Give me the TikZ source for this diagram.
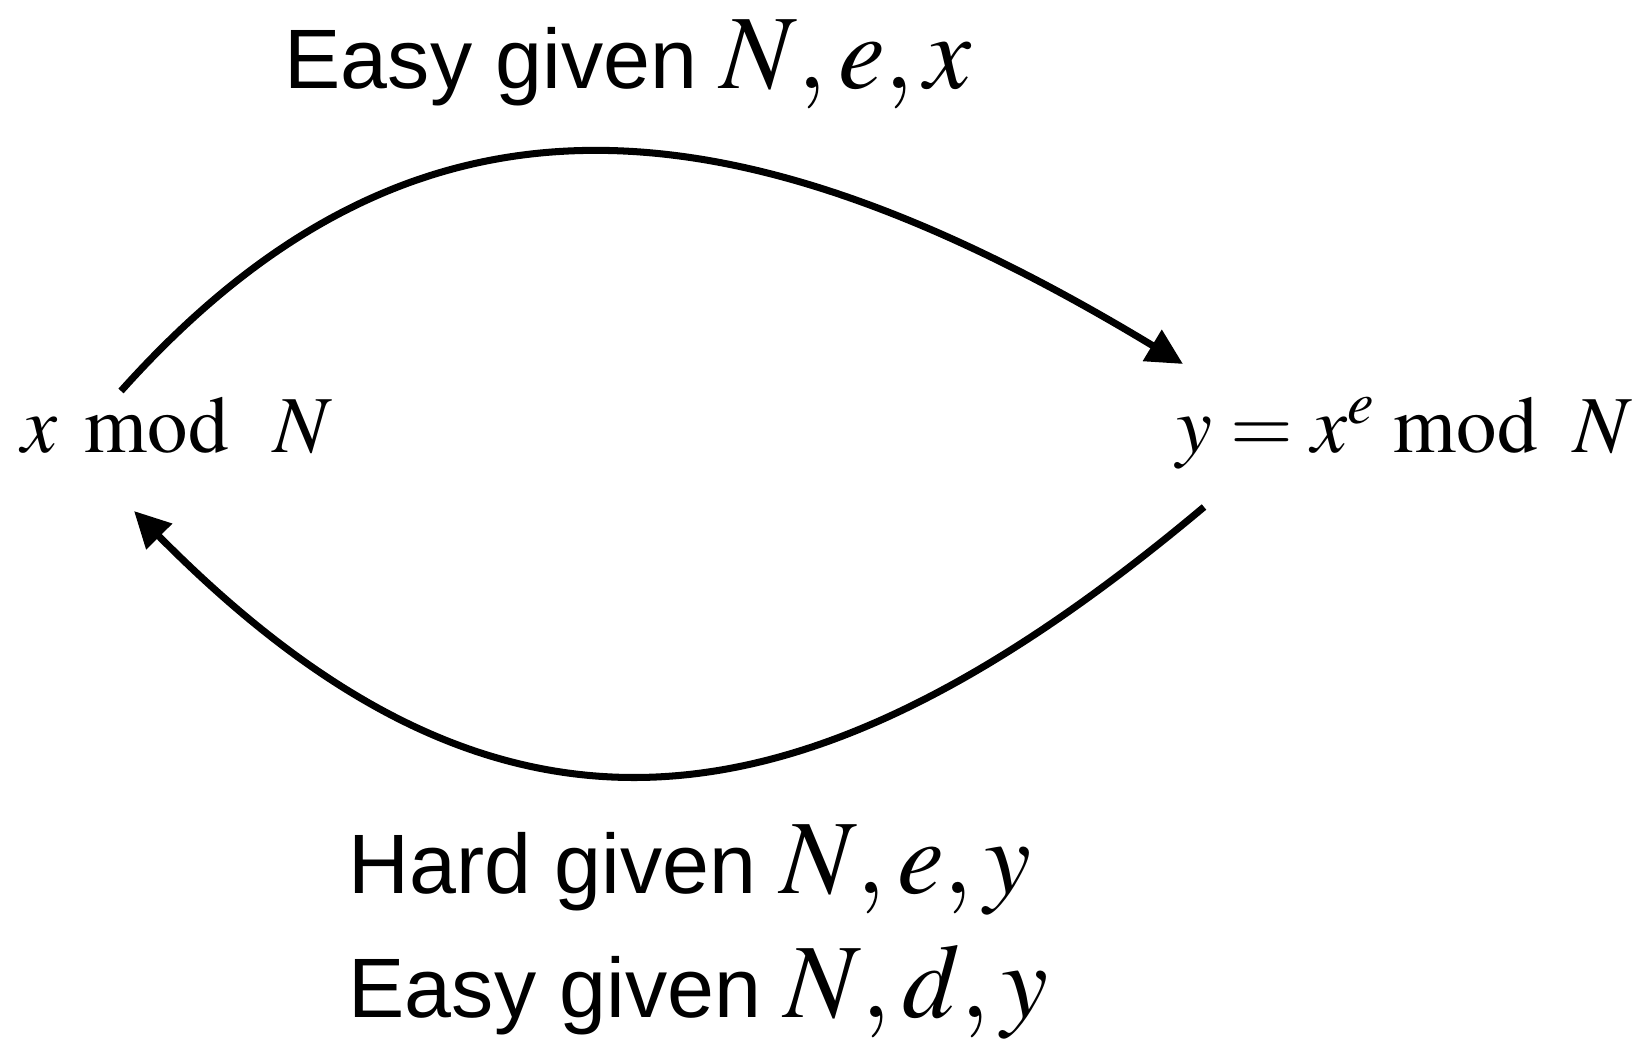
\documentclass[tikz,border=0pt]{standalone}
\usepackage{mathptmx}
\usepackage{fontspec}
\setmainfont{Liberation Serif}
\setsansfont{Liberation Sans}
\usetikzlibrary{arrows.meta}
\tikzset{
  conn/.style={line width=2pt, -{Triangle[length=3.6mm,width=3.5mm]}},
  mathnode/.style={inner sep=0pt, font=\fontsize{23}{27}\selectfont},
  lbl/.style={inner sep=0pt, font=\sffamily\fontsize{24}{29}\selectfont},
}
\newcommand{\lblmath}[1]{{\fontsize{30}{36}\selectfont$#1$}}
\begin{document}
\begin{tikzpicture}
\useasboundingbox (0,0) rectangle (16.45,10.39);
\node[mathnode, anchor=base west] (xn) at (0.21,5.86) {$x\mkern6mu\mathrm{mod}\mkern10mu N$};
\node[mathnode, anchor=base east] (yn) at (16.33,5.86) {$y = x^{e}\mkern4mu\mathrm{mod}\mkern8mu N$};
\node[lbl, anchor=base west] (top) at (2.84,9.50) {Easy given \lblmath{N, e, x}};
\node[lbl, anchor=base west] (bot1) at (3.48,1.45) {Hard given \lblmath{N, e, y}};
\node[lbl, anchor=base west] (bot2) at (3.48,0.21) {Easy given \lblmath{N, d, y}};
\coordinate (a0) at (1.21,6.48);
\coordinate (a3) at (11.83,6.75);
\coordinate (b0) at (12.04,5.32);
\coordinate (b3) at (1.34,5.28);
\draw[conn] (a0) .. controls (4.02,9.62) and (7.12,9.60) .. (a3);
\draw[conn] (b0) .. controls (7.93,1.87) and (4.92,1.66) .. (b3);
\end{tikzpicture}
\end{document}
